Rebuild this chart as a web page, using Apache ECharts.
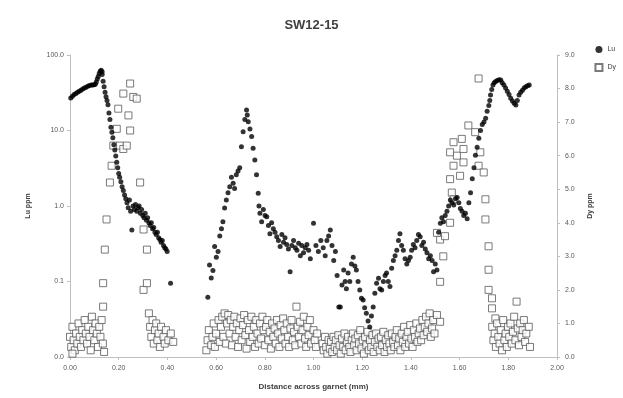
<!DOCTYPE html>
<html><head><meta charset="utf-8">
<script src="https://cdn.jsdelivr.net/npm/echarts@6/dist/echarts.min.js"></script>
<style>html,body{margin:0;padding:0;background:#fff}#c{width:623px;height:398px}</style>
</head><body><div id="c"></div>
<script>
const title = "SW12-15";
const xName = "Distance across garnet (mm)";
const yLeftName = "Lu ppm";
const yRightName = "Dy ppm";
const seriesNames = ["Lu", "Dy"];
const leftTicks = [0.01, 0.1, 1, 10, 100];
const rightTicks = [0, 1, 2, 3, 4, 5, 6, 7, 8, 9];
const xTicks = [0, 0.2, 0.4, 0.6, 0.8, 1.0, 1.2, 1.4, 1.6, 1.8, 2.0];

// Lu (ppm, log axis) — [distance mm, ppm]
const luRimLeft = [[0.003,27],[0.01,28.5],[0.017,30],[0.024,31],[0.031,32],[0.038,33],[0.045,34],[0.052,35.5],[0.059,36.5],[0.066,37.5],[0.073,38.5],[0.08,39.5],[0.087,40],[0.093,40],[0.099,40.5],[0.104,41],[0.108,44],[0.112,48],[0.116,52],[0.12,57],[0.124,61],[0.128,63],[0.132,60],
[0.132,55],[0.136,45],[0.14,38],[0.144,32],[0.148,28],[0.152,25],[0.156,22],[0.16,17],[0.164,14],[0.168,11],[0.172,9.5],[0.176,8],[0.18,6.5],[0.184,5.5],[0.188,4.6],[0.192,3.8],[0.196,3.2],[0.2,2.7],[0.204,2.4],[0.209,2.1],[0.214,1.8],[0.219,1.6],[0.224,1.4],[0.229,1.25],[0.234,1.1],[0.239,0.95],[0.244,1.2],[0.249,0.85],[0.254,0.48],[0.259,1.0],[0.264,0.9],[0.269,1.05],[0.274,0.85],[0.279,0.95],[0.284,1.0],[0.289,0.8],[0.294,0.9],[0.299,0.75],[0.304,0.7],[0.309,0.8],[0.314,0.65],[0.319,0.7],[0.324,0.6],[0.329,0.55],[0.334,0.6],[0.339,0.5],[0.344,0.52],[0.349,0.45],[0.354,0.42],[0.359,0.45],[0.364,0.38],[0.369,0.36],[0.374,0.33],[0.379,0.35],[0.384,0.3],[0.389,0.28],[0.394,0.27],[0.399,0.25],[0.413,0.095]];
const luCore = [[0.566,0.062],[0.573,0.165],[0.58,0.111],[0.587,0.14],[0.594,0.29],[0.601,0.21],[0.608,0.25],[0.615,0.4],[0.622,0.5],[0.628,0.62],[0.635,0.94],[0.642,1.2],[0.649,1.5],[0.656,1.8],[0.663,2.4],[0.67,2.0],[0.676,1.7],[0.683,2.6],[0.69,2.9],[0.697,3.2],[0.704,6.1],[0.711,9.6],[0.718,14],[0.725,18.7],[0.728,16],[0.732,13.1],[0.739,10.5],[0.746,8.3],[0.752,5.8],[0.759,4.07],[0.766,2.6],[0.773,1.47],[0.776,1.0],[0.78,0.8],[0.787,0.62],[0.794,0.9],[0.801,0.75],[0.808,0.72],[0.815,0.55],[0.821,0.43],[0.828,0.6],[0.835,0.5],[0.842,0.45],[0.849,0.39],[0.856,0.35],[0.863,0.29],[0.87,0.42],[0.877,0.33],[0.883,0.38],[0.89,0.31],[0.897,0.27],[0.904,0.135],[0.911,0.3],[0.918,0.35],[0.925,0.28],[0.932,0.26],[0.939,0.32],[0.946,0.22],[0.952,0.3],[0.959,0.24],[0.966,0.28],[0.973,0.31],[0.98,0.26],[0.987,0.2],[1.0,0.59],[1.01,0.3],[1.02,0.25],[1.03,0.35],[1.04,0.28],[1.048,0.22],[1.055,0.35],[1.062,0.4],[1.069,0.48],[1.076,0.3],[1.083,0.19],[1.09,0.25],[1.097,0.12],[1.104,0.046],[1.11,0.046],[1.117,0.09],[1.124,0.142],[1.13,0.1]];
const luRimRight = [[1.135,0.08],[1.142,0.13],[1.149,0.1],[1.156,0.17],[1.163,0.21],[1.17,0.16],[1.176,0.142],[1.183,0.1],[1.19,0.077],[1.197,0.06],[1.204,0.057],[1.21,0.045],[1.217,0.038],[1.224,0.03],[1.231,0.025],[1.238,0.035],[1.245,0.046],[1.252,0.07],[1.259,0.095],[1.267,0.11],[1.273,0.08],[1.28,0.077],[1.287,0.1],[1.294,0.12],[1.3,0.13],[1.307,0.1],[1.314,0.086],[1.321,0.15],[1.328,0.19],[1.335,0.22],[1.342,0.26],[1.349,0.35],[1.355,0.43],[1.362,0.3],[1.369,0.26],[1.376,0.2],[1.383,0.17],[1.39,0.19],[1.397,0.21],[1.403,0.26],[1.41,0.31],[1.417,0.28],[1.424,0.35],[1.431,0.42],[1.438,0.39],[1.445,0.3],[1.452,0.33],[1.459,0.27],[1.466,0.24],[1.473,0.2],[1.48,0.22],[1.487,0.19],[1.493,0.135],[1.5,0.17],[1.507,0.142],[1.514,0.45],[1.521,0.59],[1.527,0.7],[1.534,0.62],[1.541,0.75],[1.548,0.85],[1.555,1.0],[1.562,1.2],[1.569,1.1],[1.576,1.03],[1.583,1.25],[1.59,1.3],[1.597,1.1],[1.603,0.93],[1.61,0.85],[1.617,0.75],[1.624,0.8],[1.631,0.68],[1.638,1.1],[1.645,1.5],[1.652,2.3],[1.659,3.2],[1.665,4.7],[1.672,6],[1.679,7.9],[1.686,10],[1.693,12],[1.7,13],[1.707,14.5],[1.713,18],[1.72,21.5],[1.724,25],[1.727,29.5],[1.732,35],[1.737,40],[1.742,43],[1.748,44.5],[1.755,46],[1.762,47],[1.769,46.7],[1.775,43],[1.782,40],[1.789,36.5],[1.796,33],[1.803,30],[1.81,26.8],[1.817,24.5],[1.824,23],[1.831,21.8],[1.837,25],[1.844,29.5],[1.851,32],[1.858,34],[1.865,36.5],[1.872,38],[1.879,39],[1.886,40]];

// Dy (ppm, linear axis) — [distance mm, ppm]
const dyRimLeft = [[0.0,0.6],[0.005,0.3],[0.01,0.9],[0.015,0.5],[0.02,0.2],[0.025,0.7],[0.03,0.4],[0.035,1.0],[0.04,0.6],[0.045,0.3],[0.05,0.8],[0.055,0.5],[0.06,1.1],[0.065,0.7],[0.07,0.4],[0.075,0.9],[0.08,0.6],[0.085,0.2],[0.09,1.2],[0.095,0.8],[0.1,0.5],[0.105,1.0],[0.11,0.7],[0.115,0.3],[0.12,0.9],[0.125,0.6],[0.13,1.1],[0.135,0.4],[0.14,0.15],[0.01,0.1],
[0.136,1.5],[0.136,2.2],[0.143,3.2],[0.15,4.1],[0.164,5.2],[0.171,5.7],[0.178,6.3],[0.192,6.8],[0.198,7.4],[0.205,6.3],[0.219,7.85],[0.219,6.2],[0.233,6.3],[0.24,7.2],[0.247,8.15],[0.247,6.75],[0.26,7.75],[0.274,7.7],[0.288,5.2],[0.302,3.8],[0.316,3.2],[0.302,2.0],[0.316,2.2],
[0.324,1.3],[0.329,0.9],[0.334,0.6],[0.339,1.1],[0.344,0.4],[0.349,0.8],[0.354,1.0],[0.359,0.5],[0.364,0.7],[0.369,0.3],[0.374,0.9],[0.384,0.6],[0.389,0.4],[0.394,0.8],[0.404,0.5],[0.414,0.7],[0.424,0.45]];
const dyCore = [[0.56,0.2],[0.565,0.5],[0.57,0.8],[0.58,0.35],[0.585,0.6],[0.59,1.0],[0.595,0.3],[0.6,0.7],[0.61,1.1],[0.615,0.45],[0.62,0.9],[0.625,1.2],[0.63,0.6],[0.635,1.3],[0.64,0.4],[0.645,1.0],[0.65,1.25],[0.655,0.7],[0.66,1.1],[0.665,0.35],[0.67,0.9],[0.675,1.2],[0.68,0.6],[0.685,1.0],[0.69,0.3],[0.695,0.8],[0.7,1.15],[0.705,0.5],[0.71,0.95],[0.715,1.25],[0.72,0.65],[0.725,0.25],[0.73,1.1],[0.735,0.8],[0.74,0.45],[0.745,1.2],[0.75,0.6],[0.755,0.9],[0.76,0.3],[0.765,1.1],[0.77,0.7],[0.775,0.4],[0.78,1.0],[0.785,0.55],[0.79,1.2],[0.795,0.8],[0.8,0.35],[0.805,0.9],[0.81,1.1],[0.815,0.5],[0.82,0.75],[0.825,0.25],[0.83,1.0],[0.835,0.6],[0.84,0.85],[0.845,0.4],[0.85,1.1],[0.855,0.7],[0.86,0.3],[0.865,0.95],[0.87,0.55],[0.875,1.15],[0.88,0.8],[0.885,0.4],[0.89,1.0],[0.895,0.6],[0.9,0.3],[0.905,0.85],[0.91,1.1],[0.915,0.5],[0.92,0.75],[0.925,0.35],[0.93,1.5],[0.935,0.9],[0.94,0.6],[0.945,1.05],[0.95,0.4],[0.955,0.8],[0.96,1.2],[0.965,0.55],[0.97,0.3],[0.975,0.9],[0.98,0.65],[0.985,1.1],[0.99,0.4],[1.0,0.8],[1.005,0.5],[1.01,0.3],[1.015,0.7],
[1.037,0.4],[1.042,0.2],[1.047,0.6],[1.052,0.3],[1.057,0.1],[1.062,0.5],[1.067,0.25],[1.072,0.45],[1.077,0.15],[1.082,0.6],[1.087,0.3],[1.092,0.5],[1.097,0.2],[1.102,0.65],[1.107,0.35],[1.112,0.1],[1.117,0.55],[1.122,0.3],[1.127,0.7],[1.132,0.2],[1.137,0.45],[1.142,0.6],[1.147,0.3],[1.152,0.15],[1.157,0.5],[1.162,0.7],[1.167,0.35],[1.172,0.55],[1.177,0.2],[1.182,0.65],[1.187,0.4],[1.192,0.8],[1.197,0.25],[1.202,0.5],[1.207,0.1],[1.212,0.6],[1.217,0.35],[1.222,0.75],[1.227,0.2],[1.232,0.5],[1.237,0.3],[1.242,0.65],[1.247,0.15],[1.252,0.45],[1.257,0.7],[1.262,0.3],[1.267,0.55],[1.272,0.2],[1.277,0.6],[1.282,0.35],[1.287,0.75],[1.292,0.15],[1.297,0.5],[1.302,0.3],[1.307,0.65],[1.312,0.4],[1.317,0.2],[1.322,0.7],[1.327,0.45],[1.332,0.3],[1.337,0.6],[1.342,0.8],[1.347,0.35],[1.352,0.55],[1.357,0.2],[1.362,0.7],[1.367,0.45],[1.372,0.9],[1.377,0.3],[1.382,0.6],[1.387,0.75],[1.392,0.4],[1.397,0.95],[1.402,0.55],[1.407,0.3],[1.412,0.8],[1.417,0.6],[1.422,1.0],[1.427,0.45],[1.432,0.7],[1.437,0.85],[1.442,0.5],[1.447,1.1],[1.452,0.65],[1.457,0.9],[1.462,1.2],[1.467,0.75],[1.472,1.0],[1.477,1.3],[1.482,0.6],[1.487,0.85],[1.492,1.1],[1.497,0.7],[1.507,1.25],[1.52,1.05]];
const dyRimRight = [[1.52,2.24],[1.52,3.5],[1.533,3.0],[1.54,3.6],[1.507,3.7],[1.561,4.0],[1.568,4.9],[1.575,4.7],[1.561,5.3],[1.602,5.4],[1.575,5.7],[1.616,5.8],[1.561,6.1],[1.589,6.0],[1.616,6.2],[1.575,6.4],[1.609,6.5],[1.636,6.9],[1.664,6.7],[1.678,5.7],[1.685,6.1],[1.699,5.5],[1.706,4.7],[1.706,4.1],[1.719,3.3],[1.719,2.6],[1.719,2.0],[1.733,1.75],[1.733,1.45],[1.747,1.15],[1.678,8.3],
[1.734,0.9],[1.739,0.5],[1.744,0.7],[1.749,0.3],[1.754,1.0],[1.759,0.6],[1.764,0.4],[1.769,0.8],[1.774,0.2],[1.779,1.1],[1.784,0.5],[1.789,0.7],[1.794,0.3],[1.799,0.9],[1.804,0.6],[1.809,1.0],[1.814,0.4],[1.819,0.75],[1.824,1.2],[1.829,0.5],[1.834,1.65],[1.839,0.85],[1.844,0.35],[1.849,1.0],[1.854,0.6],[1.859,0.8],[1.864,1.1],[1.869,0.45],[1.874,0.7],[1.884,0.9],[1.889,0.3]];

const luData = luRimLeft.concat(luCore, luRimRight);
const dyData = dyRimLeft.concat(dyCore, dyRimRight);

const chart = echarts.init(document.getElementById('c'));
const axisTxt = {color:'#595959', fontSize:7, fontFamily:'Liberation Sans'};
const axLine = {show:true, lineStyle:{color:'#bfbfbf', width:1}};
chart.setOption({
  animation:false,
  backgroundColor:'#fff',
  title:{text:title, left:'center', top:14, textStyle:{fontSize:13, fontWeight:'bold', color:'#404040', fontFamily:'Liberation Sans'}},
  legend:{orient:'vertical', right:2, top:41, itemWidth:7, itemHeight:7, itemGap:10,
    textStyle:{fontSize:7, color:'#404040', fontFamily:'Liberation Sans'},
    data:[{name:seriesNames[0], icon:'circle'},{name:seriesNames[1], icon:'rect'}]},
  grid:{left:70, right:66, top:55, bottom:41},
  xAxis:{type:'value', min:xTicks[0], max:xTicks[xTicks.length-1], interval:0.2,
    name:xName, nameLocation:'middle', nameGap:26,
    nameTextStyle:{fontSize:8, fontWeight:'bold', color:'#404040', fontFamily:'Liberation Sans'},
    axisLine:axLine, axisTick:{show:true, length:3, lineStyle:{color:'#bfbfbf'}}, splitLine:{show:false},
    axisLabel:Object.assign({formatter:v=>v.toFixed(2), margin:8}, axisTxt)},
  yAxis:[
    {type:'log', logBase:10, min:leftTicks[0], max:leftTicks[leftTicks.length-1],
     name:yLeftName, nameLocation:'middle', nameGap:38, nameRotate:90,
     nameTextStyle:{fontSize:7, fontWeight:'bold', color:'#404040', fontFamily:'Liberation Sans'},
     axisLine:axLine, axisTick:{show:true, length:3, lineStyle:{color:'#bfbfbf'}}, splitLine:{show:false},
     axisLabel:Object.assign({formatter:v=>v.toFixed(1), margin:6}, axisTxt)},
    {type:'value', min:rightTicks[0], max:rightTicks[rightTicks.length-1], interval:1, position:'right',
     name:yRightName, nameLocation:'middle', nameGap:30, nameRotate:90,
     nameTextStyle:{fontSize:7, fontWeight:'bold', color:'#404040', fontFamily:'Liberation Sans'},
     axisLine:axLine, axisTick:{show:true, length:3, lineStyle:{color:'#bfbfbf'}}, splitLine:{show:false},
     axisLabel:Object.assign({formatter:v=>v.toFixed(1), margin:8}, axisTxt)}
  ],
  series:[
    {name:seriesNames[1], type:'scatter', yAxisIndex:1, data:dyData, symbol:'rect', symbolSize:7,
     itemStyle:{color:'#ffffff', borderColor:'#595959', borderWidth:1}, z:2},
    {name:seriesNames[0], type:'scatter', yAxisIndex:0, data:luData, symbol:'circle', symbolSize:5,
     itemStyle:{color:'#000000'}, z:3}
  ]
});
</script></body></html>
